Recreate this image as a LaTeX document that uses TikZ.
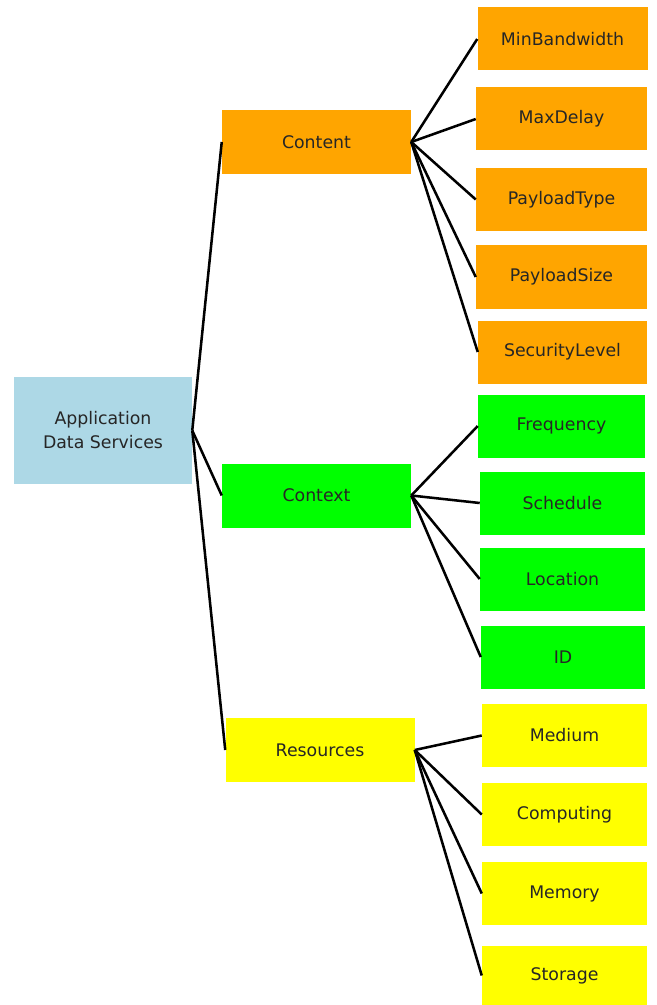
\documentclass[tikz,border=0pt]{standalone}
\usepackage{fontspec}
\setmainfont{DejaVu Sans}
\definecolor{rootblue}{HTML}{ADD8E6}
\definecolor{contorange}{HTML}{FFA500}
\definecolor{ctxgreen}{HTML}{00FF00}
\definecolor{resyellow}{HTML}{FFFF00}
\tikzset{
  box/.style={rectangle, inner sep=0pt, align=center, text=black!85,
    font=\fontsize{13}{18}\selectfont},
  rootbox/.style={box, fill=rootblue, minimum width=133.5pt, minimum height=80.25pt},
  midbox/.style={box, minimum width=141.75pt, minimum height=48pt},
  leafbox/.style={box, minimum width=124pt, minimum height=47.25pt},
  link/.style={line width=1.9pt, black}
}
\begin{document}
\begin{tikzpicture}[x=0.75pt, y=-0.75pt]
		%%%%% START %%%%%
		\useasboundingbox (0, 0) rectangle (656, 1005);
		
		\node[rootbox] (app) at (103, 430.5) {Application\\Data Services};
		
		\node[midbox, fill=contorange] (content) at (316.5, 142) {Content};
		\node[midbox, fill=ctxgreen] (context) at (316.5, 495.5) {Context};
		\node[midbox, fill=resyellow] (resources) at (320, 750) {Resources};
		
		\node[leafbox, fill=contorange, minimum width=127.5pt] (minbw) at (562.5, 39) {MinBandwidth};
		\node[leafbox, fill=contorange, minimum width=128.25pt] (maxdelay) at (561.5, 119) {MaxDelay};
		\node[leafbox, fill=contorange, minimum width=128.25pt] (ptype) at (561.5, 199.5) {PayloadType};
		\node[leafbox, fill=contorange, minimum width=128.25pt] (psize) at (561.5, 277) {PayloadSize};
		\node[leafbox, fill=contorange, minimum width=126.75pt] (seclevel) at (562.5, 352) {SecurityLevel};
		
		\node[leafbox, fill=ctxgreen, minimum width=125.25pt] (freq) at (561.5, 426) {Frequency};
		\node[leafbox, fill=ctxgreen, minimum width=123.75pt] (sched) at (562.5, 503) {Schedule};
		\node[leafbox, fill=ctxgreen, minimum width=123.75pt] (loc) at (562.5, 579) {Location};
		\node[leafbox, fill=ctxgreen, minimum width=123pt] (ident) at (563, 657) {ID};
		
		\node[leafbox, fill=resyellow, minimum width=123.75pt] (medium) at (564.5, 735.5) {Medium};
		\node[leafbox, fill=resyellow, minimum width=123.75pt] (computing) at (564.5, 814.5) {Computing};
		\node[leafbox, fill=resyellow, minimum width=123.75pt] (memory) at (564.5, 893.5) {Memory};
		\node[leafbox, fill=resyellow, minimum width=123.75pt, minimum height=45pt] (storage) at (564.5, 975.5) {Storage};
		
		% root to groups
		\draw[link] (app.east) -- (content.west);
		\draw[link] (app.east) -- (context.west);
		\draw[link] (app.east) -- (resources.west);
		
		% content attributes
		\draw[link] (content.east) -- (minbw.west);
		\draw[link] (content.east) -- (maxdelay.west);
		\draw[link] (content.east) -- (ptype.west);
		\draw[link] (content.east) -- (psize.west);
		\draw[link] (content.east) -- (seclevel.west);
		
		% context attributes
		\draw[link] (context.east) -- (freq.west);
		\draw[link] (context.east) -- (sched.west);
		\draw[link] (context.east) -- (loc.west);
		\draw[link] (context.east) -- (ident.west);
		
		% resources attributes
		\draw[link] (resources.east) -- (medium.west);
		\draw[link] (resources.east) -- (computing.west);
		\draw[link] (resources.east) -- (memory.west);
		\draw[link] (resources.east) -- (storage.west);
		
		%%%%% END %%%%%
\end{tikzpicture}
\end{document}
